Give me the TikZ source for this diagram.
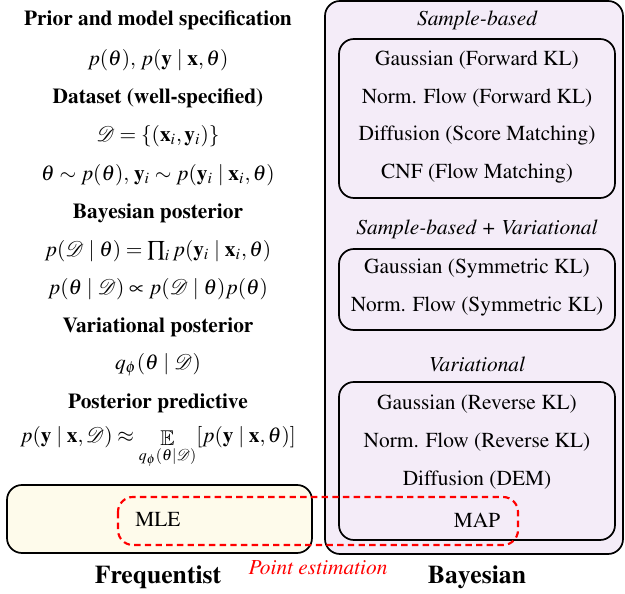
\documentclass[tikz,border=0pt]{standalone}
\usepackage[T1]{fontenc}
\usepackage{amsmath, amssymb, mathptmx}
\usetikzlibrary{positioning}
\tikzset{>=stealth}
\definecolor{bayesfill}{RGB}{244,236,248}
\definecolor{freqfill}{RGB}{254,251,235}
\tikzset{
  head/.style={font=\bfseries},
  grouptitle/.style={font=\itshape},
  groupbox/.style={draw, thick, rounded corners=7pt},
  sidetitle/.style={font=\large\bfseries}
}

\begin{document}
\begin{tikzpicture}[x=0.468pt, y=-0.468pt]
\useasboundingbox (0,0) rectangle (625,594);
% the two camps
\draw[groupbox, fill=bayesfill] (325,1) rectangle (623,554);
\draw[groupbox, fill=freqfill] (7,485) rectangle (312,553);
% left column
\node[head] (prior) at (158,20) {Prior and model specification};
\node (priorEq) at (158,60) {$p(\theta),\, p(\mathbf{y}\mid\mathbf{x},\theta)$};
\node[head] (data) at (158,98) {Dataset (well-specified)};
\node (dataEq) at (158,136) {$\mathcal{D}=\{(\mathbf{x}_i,\mathbf{y}_i)\}$};
\node (genEq) at (158,175) {$\theta\sim p(\theta),\, \mathbf{y}_i\sim p(\mathbf{y}_i\mid\mathbf{x}_i,\theta)$};
\node[head] (post) at (158,213) {Bayesian posterior};
\node (likEq) at (158,251) {$p(\mathcal{D}\mid\theta)=\prod_i p(\mathbf{y}_i\mid\mathbf{x}_i,\theta)$};
\node (postEq) at (158,289) {$p(\theta\mid\mathcal{D})\propto p(\mathcal{D}\mid\theta)p(\theta)$};
\node[head] (vpost) at (158,327) {Variational posterior};
\node (vpostEq) at (158,365) {$q_\phi(\theta\mid\mathcal{D})$};
\node[head] (pred) at (158,403) {Posterior predictive};
\node[anchor=base] (predEq) at (158,443) {$p(\mathbf{y}\mid\mathbf{x},\mathcal{D})\approx
  \mathop{\mathbb{E}}\limits_{q_\phi(\theta|\mathcal{D})}[p(\mathbf{y}\mid\mathbf{x},\theta)]$};
% sample-based
\node[grouptitle] (sb) at (477,20) {Sample-based};
\draw[groupbox] (339,39) rectangle (615,198);
\node (gfkl) at (477,60) {Gaussian (Forward KL)};
\node (nffkl) at (477,98) {Norm. Flow (Forward KL)};
\node (dsm) at (477,136) {Diffusion (Score Matching)};
\node (cnf) at (477,174) {CNF (Flow Matching)};
% sample-based + variational
\node[grouptitle] (sbv) at (477,229) {Sample-based + Variational};
\draw[groupbox] (339,249) rectangle (615,330);
\node (gskl) at (477,269) {Gaussian (Symmetric KL)};
\node (nfskl) at (477,307) {Norm. Flow (Symmetric KL)};
% variational
\node[grouptitle] (var) at (477,364) {Variational};
\draw[groupbox] (339,382) rectangle (615,540);
\node (grkl) at (477,404) {Gaussian (Reverse KL)};
\node (nfrkl) at (477,442) {Norm. Flow (Reverse KL)};
\node (dem) at (477,480) {Diffusion (DEM)};
\node (map) at (477,520) {MAP};
\node (mle) at (158,520) {MLE};
% point estimates
\draw[red, line width=1pt, dash pattern=on 3pt off 2pt, rounded corners=7pt] (118,497) rectangle (518,545);
\node[red, font=\itshape] (point) at (318,568) {Point estimation};
\node[sidetitle] (freq) at (158,577) {Frequentist};
\node[sidetitle] (bayes) at (477,577) {Bayesian};
\end{tikzpicture}
\end{document}
